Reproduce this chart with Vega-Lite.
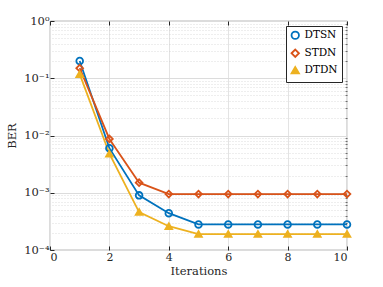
{
  "$schema": "https://vega.github.io/schema/vega-lite/v6.json",
  "width": 297,
  "height": 229,
  "autosize": {"type": "none"},
  "padding": {"left": 50, "top": 21, "right": 36, "bottom": 37},
  "background": "white",
  "config": {
    "font": "DejaVu Serif",
    "view": {"stroke": "#262626", "strokeWidth": 0.8}
  },
  "data": {
    "values": [
      {"it": 1, "ber": 0.2, "series": "DTSN"},
      {"it": 2, "ber": 0.006, "series": "DTSN"},
      {"it": 3, "ber": 0.0009, "series": "DTSN"},
      {"it": 4, "ber": 0.00044, "series": "DTSN"},
      {"it": 5, "ber": 0.00028, "series": "DTSN"},
      {"it": 6, "ber": 0.00028, "series": "DTSN"},
      {"it": 7, "ber": 0.00028, "series": "DTSN"},
      {"it": 8, "ber": 0.00028, "series": "DTSN"},
      {"it": 9, "ber": 0.00028, "series": "DTSN"},
      {"it": 10, "ber": 0.00028, "series": "DTSN"},
      {"it": 1, "ber": 0.15, "series": "STDN"},
      {"it": 2, "ber": 0.0087, "series": "STDN"},
      {"it": 3, "ber": 0.0015, "series": "STDN"},
      {"it": 4, "ber": 0.00095, "series": "STDN"},
      {"it": 5, "ber": 0.00095, "series": "STDN"},
      {"it": 6, "ber": 0.00095, "series": "STDN"},
      {"it": 7, "ber": 0.00095, "series": "STDN"},
      {"it": 8, "ber": 0.00095, "series": "STDN"},
      {"it": 9, "ber": 0.00095, "series": "STDN"},
      {"it": 10, "ber": 0.00095, "series": "STDN"},
      {"it": 1, "ber": 0.118, "series": "DTDN"},
      {"it": 2, "ber": 0.0048, "series": "DTDN"},
      {"it": 3, "ber": 0.00046, "series": "DTDN"},
      {"it": 4, "ber": 0.00026, "series": "DTDN"},
      {"it": 5, "ber": 0.00019, "series": "DTDN"},
      {"it": 6, "ber": 0.00019, "series": "DTDN"},
      {"it": 7, "ber": 0.00019, "series": "DTDN"},
      {"it": 8, "ber": 0.00019, "series": "DTDN"},
      {"it": 9, "ber": 0.00019, "series": "DTDN"},
      {"it": 10, "ber": 0.00019, "series": "DTDN"}
    ]
  },
  "resolve": {"axis": {"x": "independent", "y": "independent"}},
  "layer": [
    {
      "mark": {"type": "point", "opacity": 0},
      "encoding": {
        "x": {"field": "it", "type": "quantitative", "scale": {"domain": [0, 10], "nice": false},
          "axis": {"orient": "top", "values": [0, 2, 4, 6, 8, 10], "labels": false, "title": null, "grid": false, "domain": false, "tickSize": -4, "tickColor": "#262626"}},
        "y": {"field": "ber", "type": "quantitative", "scale": {"type": "log", "domain": [0.0001, 1], "nice": false},
          "axis": {"orient": "right", "values": [0.0002,0.0003,0.0004,0.0005,0.0006,0.0007,0.0008,0.0009,0.002,0.003,0.004,0.005,0.006,0.007,0.008,0.009,0.02,0.03,0.04,0.05,0.06,0.07,0.08,0.09,0.2,0.3,0.4,0.5,0.6,0.7,0.8,0.9],
            "labels": false, "title": null, "domain": false, "tickSize": -2, "tickWidth": 0.6, "tickColor": "#262626", "grid": true, "gridDash": [1, 2], "gridColor": "#c8c8c8", "gridWidth": 0.6}}
      }
    },
    {
      "mark": {"type": "line", "strokeWidth": 1.8},
      "encoding": {
        "x": {"field": "it", "type": "quantitative", "scale": {"domain": [0, 10], "nice": false},
          "axis": {"orient": "bottom", "values": [0, 2, 4, 6, 8, 10], "title": "Iterations", "titlePadding": 3, "labelPadding": 5, "tickSize": -4, "tickColor": "#262626", "grid": true, "gridColor": "#e3e3e3", "domain": false,
            "labelFont": "DejaVu Serif", "titleFont": "DejaVu Serif", "labelFontSize": 11, "titleFontSize": 11.5, "titleFontWeight": "normal", "labelColor": "#262626", "titleColor": "#262626"}},
        "y": {"field": "ber", "type": "quantitative", "scale": {"type": "log", "domain": [0.0001, 1], "nice": false},
          "axis": {"orient": "left", "values": [0.0001, 0.001, 0.01, 0.1, 1], "title": "BER", "titlePadding": 6, "labelPadding": 5, "tickSize": -4, "tickColor": "#262626", "grid": true, "gridColor": "#dcdcdc", "domain": false,
            "labelFont": "DejaVu Serif", "titleFont": "DejaVu Serif", "labelFontSize": 11.5, "titleFontSize": 11.5, "titleFontWeight": "normal", "labelColor": "#262626", "titleColor": "#262626",
            "labelExpr": "datum.value > 0.5 ? '10⁰' : datum.value > 0.05 ? '10⁻¹' : datum.value > 0.005 ? '10⁻²' : datum.value > 0.0005 ? '10⁻³' : '10⁻⁴'"}},
        "stroke": {"field": "series", "type": "nominal", "scale": {"domain": ["DTSN", "STDN", "DTDN"], "range": ["#0072BD", "#D95319", "#EDB120"]}},
        "detail": {"field": "series"}
      }
    },
    {
      "mark": {"type": "point", "strokeWidth": 1.8, "size": 45, "opacity": 1},
      "encoding": {
        "x": {"field": "it", "type": "quantitative", "axis": null},
        "y": {"field": "ber", "type": "quantitative", "axis": null},
        "stroke": {"field": "series", "type": "nominal", "scale": {"domain": ["DTSN", "STDN", "DTDN"], "range": ["#0072BD", "#D95319", "#EDB120"]},
          "legend": {"title": null, "orient": "top-right", "offset": 5, "strokeColor": "#262626", "fillColor": "white", "padding": 4, "rowPadding": 2, "labelFont": "DejaVu Serif", "labelFontSize": 10.5, "labelColor": "#000000", "symbolSize": 55, "symbolStrokeWidth": 1.8}},
        "fill": {"field": "series", "type": "nominal", "scale": {"domain": ["DTSN", "STDN", "DTDN"], "range": ["transparent", "transparent", "#EDB120"]}},
        "shape": {"field": "series", "type": "nominal", "scale": {"domain": ["DTSN", "STDN", "DTDN"], "range": ["circle", "diamond", "triangle-up"]}}
      }
    }
  ]
}
